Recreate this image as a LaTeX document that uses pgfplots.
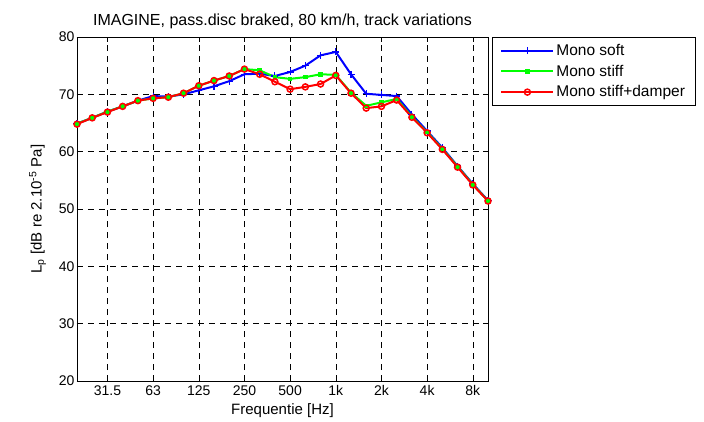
\documentclass[border=0pt]{standalone}
\usepackage{pgfplots}
\pgfplotsset{compat=1.18}
\usepackage{fontspec}
\setmainfont{Liberation Sans}

% third-octave bands 20 Hz .. 10 kHz plotted at index 0..27
\begin{document}
\begin{tikzpicture}
\useasboundingbox (-77pt,-40pt) rectangle (627pt,381pt);
\begin{axis}[
    scale only axis,
    width=411pt, height=344pt,
    at={(0pt,0pt)}, anchor=south west,
    xmin=0, xmax=27,
    ymin=20, ymax=80,
    xtick={2,5,8,11,14,17,20,23,26},
    xticklabels={31.5,63,125,250,500,1k,2k,4k,8k},
    ytick={20,30,40,50,60,70,80},
    tick align=inside,
    major tick length=5pt,
    tick style={black, line width=0.5pt},
    axis line style={black, line width=0.6pt},
    grid=major,
    grid style={dashed, black, line width=0.5pt, dash pattern=on 6pt off 5pt},
    /pgf/number format/assume math mode=true,
    font=\fontsize{15}{17}\selectfont,
    tick label style={font=\fontsize{14}{16}\selectfont},
    xticklabel style={yshift=-1pt},
    yticklabel style={xshift=1pt},
    title={IMAGINE, pass.disc braked, 80 km/h, track variations},
    title style={font=\fontsize{16}{18}\selectfont, yshift=-1pt},
    xlabel={Frequentie [Hz]},
    ylabel={L\textsubscript{p} [dB re 2.10\textsuperscript{-5} Pa]},
    xlabel style={yshift=-1pt},
    ylabel style={yshift=6pt},
    legend style={at={(1.01,1)}, anchor=north west, draw=black, line width=0.6pt,
        font=\fontsize{15.5}{17}\selectfont,
        nodes={font=\fontsize{15.5}{17}\selectfont},
        inner xsep=8pt, inner ysep=5pt, row sep=4pt},
    legend cell align=left,
    legend image code/.code={\draw[mark repeat=2,mark phase=2] plot coordinates {(0pt,0pt) (26pt,0pt) (52pt,0pt)};},
]
\addplot[blue, line width=2pt, mark=+, mark size=3.5pt, mark options={line width=1.2pt}] coordinates {
(0,64.9) (1,65.9) (2,67.0) (3,67.9) (4,68.9) (5,69.7) (6,69.6) (7,70.0)
(8,70.7) (9,71.4) (10,72.3) (11,73.5) (12,73.6) (13,73.2) (14,73.9) (15,75.0)
(16,76.8) (17,77.4) (18,73.5) (19,70.1) (20,69.9) (21,69.7) (22,66.5) (23,63.6)
(24,60.7) (25,57.5) (26,54.4) (27,51.5)
};
\addlegendentry{Mono soft}
\addplot[green, line width=2pt, mark=square*, mark size=1.3pt] coordinates {
(0,64.9) (1,65.9) (2,67.0) (3,67.9) (4,68.9) (5,69.3) (6,69.5) (7,70.2)
(8,71.5) (9,72.4) (10,73.2) (11,74.4) (12,74.2) (13,73.0) (14,72.7) (15,73.0)
(16,73.5) (17,73.4) (18,70.3) (19,68.0) (20,68.6) (21,69.2) (22,66.1) (23,63.4)
(24,60.5) (25,57.4) (26,54.3) (27,51.4)
};
\addlegendentry{Mono stiff}
\addplot[red, line width=2pt, mark=o, mark size=3pt, mark options={line width=1.5pt}] coordinates {
(0,64.8) (1,65.9) (2,66.9) (3,67.9) (4,68.9) (5,69.3) (6,69.5) (7,70.2)
(8,71.5) (9,72.4) (10,73.2) (11,74.4) (12,73.5) (13,72.2) (14,70.9) (15,71.3)
(16,71.8) (17,73.3) (18,70.2) (19,67.6) (20,67.9) (21,69.0) (22,66.0) (23,63.3)
(24,60.4) (25,57.3) (26,54.2) (27,51.4)
};
\addlegendentry{Mono stiff+damper}
\node[anchor=west, inner sep=0pt, font=\fontsize{15}{17}\selectfont] at (axis description cs:-0.189,0.671) {k};
\end{axis}
\end{tikzpicture}
\end{document}
